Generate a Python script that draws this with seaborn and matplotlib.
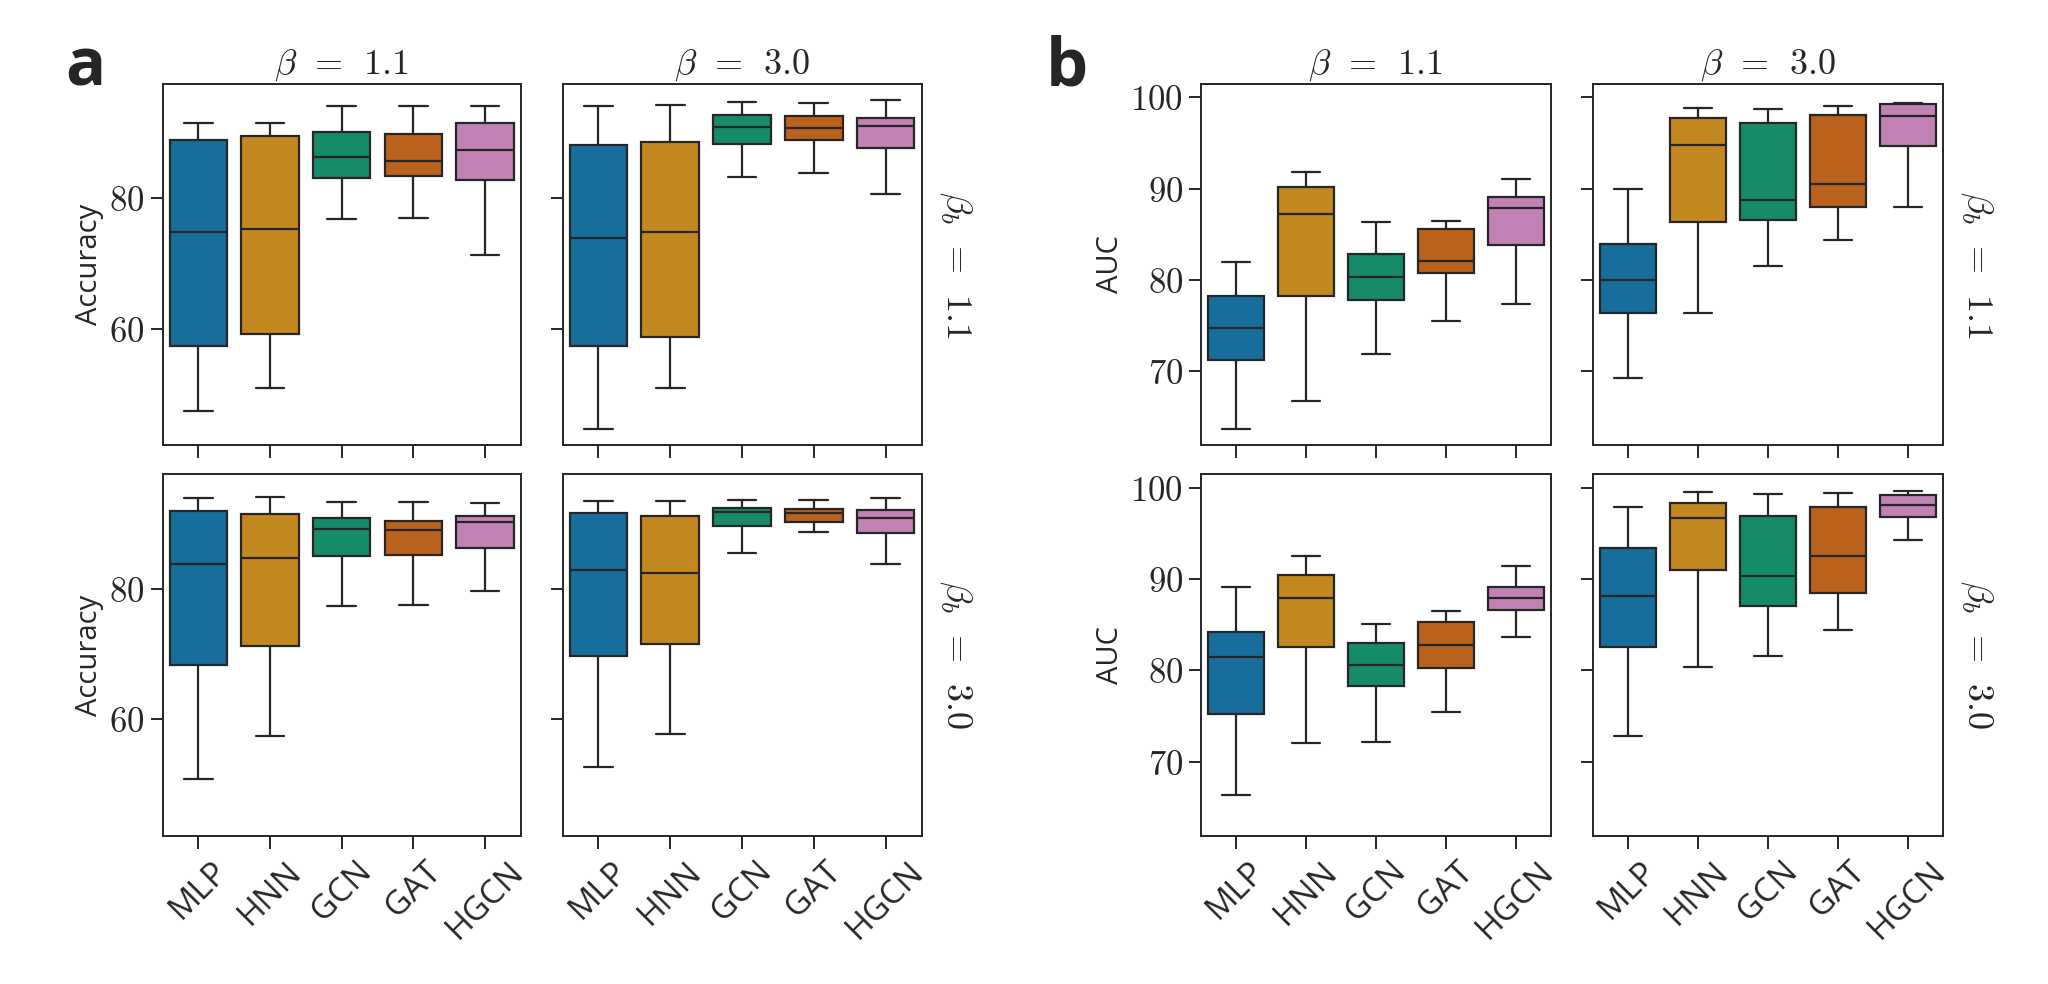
import numpy as np
import pandas as pd
import matplotlib
matplotlib.use("Agg")
import matplotlib.pyplot as plt
import seaborn as sns

# ---------------- data (five-number summaries) ----------------
models = ["MLP", "HNN", "GCN", "GAT", "HGCN"]
betas = ["1.1", "3.0"]          # columns
beta_bs = ["1.1", "3.0"]        # rows
summary_fields = ["whislo", "q1", "med", "q3", "whishi"]

# Accuracy
acc_bb11_b11 = [[47.4, 57.4, 74.8, 89.0, 91.5], [50.9, 59.3, 75.3, 89.5, 91.5],
                [76.8, 83.2, 86.4, 90.2, 94.1], [77.0, 83.5, 85.8, 89.9, 94.1],
                [71.3, 82.9, 87.4, 91.5, 94.1]]
acc_bb11_b30 = [[44.7, 57.4, 74.0, 88.2, 94.1], [50.9, 58.8, 74.9, 88.6, 94.3],
                [83.3, 88.3, 91.0, 92.8, 94.8], [83.9, 89.0, 90.8, 92.7, 94.7],
                [80.7, 87.7, 91.1, 92.4, 95.1]]
acc_bb30_b11 = [[50.9, 68.4, 83.9, 92.0, 94.0], [57.5, 71.3, 84.8, 91.5, 94.1],
                [77.4, 85.1, 89.3, 90.9, 93.4], [77.6, 85.2, 89.1, 90.5, 93.4],
                [79.8, 86.4, 90.3, 91.3, 93.3]]
acc_bb30_b30 = [[52.7, 69.7, 82.9, 91.7, 93.5], [57.7, 71.6, 82.5, 91.2, 93.5],
                [85.6, 89.7, 91.8, 92.5, 93.7], [88.8, 90.4, 91.7, 92.3, 93.7],
                [83.8, 88.7, 91.0, 92.1, 94.0]]
# AUC
auc_bb11_b11 = [[63.7, 71.2, 74.7, 78.2, 82.0], [66.7, 78.2, 87.2, 90.2, 91.8],
                [71.9, 77.8, 80.3, 82.8, 86.3], [75.5, 80.8, 82.1, 85.6, 86.5],
                [77.4, 83.8, 87.9, 89.1, 91.1]]
auc_bb11_b30 = [[69.3, 76.4, 80.0, 83.9, 89.9], [76.4, 86.3, 94.8, 97.7, 98.8],
                [81.5, 86.6, 88.8, 97.2, 98.7], [84.4, 88.0, 90.5, 98.1, 99.0],
                [88.0, 94.7, 97.9, 99.3, 99.4]]
auc_bb30_b11 = [[66.3, 75.2, 81.5, 84.2, 89.2], [72.1, 82.6, 87.9, 90.5, 92.6],
                [72.2, 78.3, 80.6, 83.0, 85.1], [75.4, 80.3, 82.8, 85.3, 86.5],
                [83.7, 86.6, 88.0, 89.2, 91.5]]
auc_bb30_b30 = [[72.8, 82.6, 88.2, 93.4, 97.9], [80.4, 91.0, 96.7, 98.4, 99.6],
                [81.6, 87.1, 90.4, 97.0, 99.4], [84.4, 88.5, 92.6, 97.9, 99.5],
                [94.3, 96.8, 98.1, 99.3, 99.7]]

acc_ticks = [60, 80]
auc_ticks = [70, 80, 90, 100]

facets = {
    ("Accuracy", "1.1", "1.1"): acc_bb11_b11,
    ("Accuracy", "1.1", "3.0"): acc_bb11_b30,
    ("Accuracy", "3.0", "1.1"): acc_bb30_b11,
    ("Accuracy", "3.0", "3.0"): acc_bb30_b30,
    ("AUC", "1.1", "1.1"): auc_bb11_b11,
    ("AUC", "1.1", "3.0"): auc_bb11_b30,
    ("AUC", "3.0", "1.1"): auc_bb30_b11,
    ("AUC", "3.0", "3.0"): auc_bb30_b30,
}

rows = []
for (metric, bb, b), summ in facets.items():
    for m, vals in zip(models, summ):
        for v in vals:
            rows.append(dict(metric=metric, beta_b=bb, beta=b, model=m, value=v))
df = pd.DataFrame(rows)

# ---------------- style ----------------
sns.set_style("ticks")
plt.rcParams["font.family"] = ["Open Sans", "DejaVu Sans"]
plt.rcParams["mathtext.fontset"] = "cm"
plt.rcParams["axes.linewidth"] = 1.4

W, H = 2048, 984
fig = plt.figure(figsize=(W / 100, H / 100), dpi=100)

def px_axes(x0, x1, ytop, ybot):
    return fig.add_axes([x0 / W, 1 - ybot / H, (x1 - x0) / W, (ybot - ytop) / H])

layout = {
    "Accuracy": dict(cols=[(162.5, 521.0), (562.5, 921.5)], ticks=acc_ticks, letter="a", lx=65),
    "AUC": dict(cols=[(1201.0, 1550.5), (1592.5, 1942.5)], ticks=auc_ticks, letter="b", lx=1046),
}
row_px = [(83.5, 445.3), (474.5, 835.5)]
EDGE = "#262626"

for metric, lay in layout.items():
    first = None
    for ri, bb in enumerate(beta_bs):
        for ci, b in enumerate(betas):
            x0, x1 = lay["cols"][ci]
            yt, yb = row_px[ri]
            ax = px_axes(x0, x1, yt, yb)
            if first is None:
                first = ax
            else:
                ax.sharey(first)
            sub = df[(df.metric == metric) & (df.beta_b == bb) & (df.beta == b)]
            sns.boxplot(data=sub, x="model", y="value", hue="model", order=models,
                        hue_order=models, palette="colorblind", whis=(0, 100),
                        linewidth=1.6, linecolor=EDGE, width=0.8, legend=False, ax=ax)
            ax.set_xlabel("")
            ax.set_ylabel("")
            for s in ax.spines.values():
                s.set_visible(True)
                s.set_linewidth(1.4)
                s.set_color(EDGE)
            ax.tick_params(axis="both", length=9, width=1.4, color=EDGE)
            ax.set_yticks(lay["ticks"])
            ax.set_yticklabels([f"${t}$" for t in lay["ticks"]], fontsize=25)
            ax.tick_params(axis="y", pad=4)
            ax.set_xticks(range(len(models)))
            ax.set_xticklabels(models, rotation=45, ha="center", fontsize=24)
            ax.tick_params(axis="x", pad=5)
            if ci == 1:
                ax.tick_params(labelleft=False)
            else:
                ax.set_ylabel(metric, fontsize=21, labelpad=4)
            if ri == 0:
                ax.tick_params(labelbottom=False)
                ax.set_title(rf"$\beta\;\,=\;\,{b}$", fontsize=26, pad=7)
            if ci == 1:
                ax.annotate(rf"$\beta_b\;\,=\;\,{bb}$", xy=(1, 0.5), xycoords="axes fraction",
                            xytext=(24.5, 0), textcoords="offset points",
                            rotation=270, ha="center", va="center", fontsize=26)
    fig.text(lay["lx"] / W, 1 - 85 / H, lay["letter"], fontsize=48, fontweight="bold",
             ha="left", va="baseline", family=["Open Sans", "DejaVu Sans"])

fig.savefig("out.png", dpi=100)
